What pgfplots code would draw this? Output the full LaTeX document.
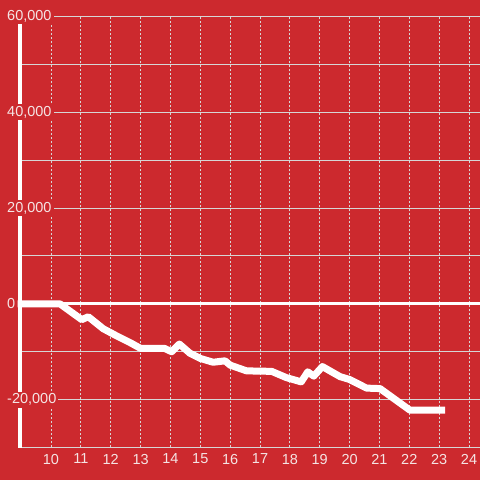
\documentclass[border=0pt]{standalone}
\usepackage{pgfplots}
\pgfplotsset{compat=1.18}
\usepackage{fontspec}
\setmainfont{Liberation Sans}
\definecolor{bg}{RGB}{204,41,46}
\definecolor{gridc}{RGB}{214,214,214}
\definecolor{lab}{RGB}{245,228,228}
\begin{document}
\begin{tikzpicture}
\begin{axis}[
  at={(0,0)}, anchor=south west,
  scale only axis, width=460bp, height=431bp,
  set layers,
  xmin=8.962, xmax=24.368,
  ymin=-30000, ymax=60000,
  clip=false,
  separate axis lines,
  axis y line*=left, axis x line*=bottom,
  y axis line style={draw=white, line width=3bp, -},
  x axis line style={draw=none, -},
  xtick={10,...,24},
  ytick={-20000,0,20000,40000,60000},
  minor ytick={-30000,-10000,10000,30000,50000},
  major tick length=0pt, minor tick length=0pt,
  xmajorgrids, ymajorgrids, yminorgrids,
  x grid style={gridc, line width=0.8bp, dash pattern=on 2bp off 2bp},
  y grid style={gridc, line width=1bp},
  minor y grid style={gridc, line width=1bp},
  scaled ticks=false,
  /pgf/number format/1000 sep={,},
  /pgf/number format/assume math mode=true,
  tick label style={font=\fontsize{14.5bp}{17bp}\selectfont, text=lab},
  yticklabel style={anchor=west, xshift=-15bp, fill=bg, inner sep=2bp},
  xticklabel style={anchor=north, yshift=-3bp},
]
\begin{pgfonlayer}{axis background}
\fill[bg] ([xshift=-20bp,yshift=-32.5bp]rel axis cs:0,0) rectangle ([yshift=16.5bp]rel axis cs:1,1);
\end{pgfonlayer}
\addplot[white, line width=3bp] coordinates {(8.962,0) (24.368,0)};
\addplot[white, line width=7bp, line join=round] coordinates {
(8.88,0) (10.3,0) (11.03,-3300) (11.25,-2700) (11.75,-5200) (12.2,-6700)
(12.65,-8100) (13.0,-9300) (13.8,-9300) (14.04,-10000) (14.3,-8400)
(14.65,-10300) (15.0,-11400) (15.43,-12200) (15.83,-11900) (16.0,-12800)
(16.55,-14000) (17.39,-14100) (17.88,-15400) (18.38,-16300) (18.6,-14200)
(18.8,-15100) (19.09,-13100) (19.68,-15200) (20.0,-15800) (20.57,-17600)
(21.02,-17700) (22.02,-22200) (23.2,-22200)};
\end{axis}
\pgfresetboundingbox
\path[use as bounding box] (-20bp,-32.5bp) rectangle (460bp,447.5bp);
\end{tikzpicture}
\end{document}
